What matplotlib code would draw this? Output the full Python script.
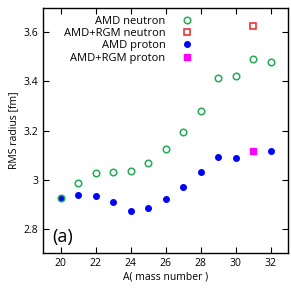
import matplotlib
matplotlib.use('Agg')
import matplotlib.pyplot as plt

plt.rcParams['font.family'] = ['Open Sans', 'DejaVu Sans']

# mass numbers and radii
A_amd = [20, 21, 22, 23, 24, 25, 26, 27, 28, 29, 30, 31, 32]
amd_neutron = [2.925, 2.985, 3.026, 3.029, 3.033, 3.068, 3.126, 3.194, 3.278, 3.415, 3.423, 3.49, 3.48]
A_proton = [20, 21, 22, 23, 24, 25, 26, 27, 28, 29, 30, 32]
amd_proton = [2.924, 2.936, 2.931, 2.909, 2.872, 2.886, 2.922, 2.971, 3.029, 3.091, 3.087, 3.115]
A_rgm = [31]
rgm_neutron = [3.627]
rgm_proton = [3.115]

fig = plt.figure(figsize=(2.91, 2.94), dpi=100)
ax = fig.add_axes([0.148, 0.139, 0.842, 0.834])

ax.plot(A_proton, amd_proton, 'o', color='#0000ff', markersize=4, linestyle='none', label='AMD proton')
ax.plot(A_amd, amd_neutron, 'o', mfc='none', mec='#22aa55', mew=1.1, markersize=4.7, linestyle='none', label='AMD neutron')
ax.plot(A_rgm, rgm_neutron, 's', mfc='none', mec='#ee2222', mew=1.1, markersize=4.7, linestyle='none', label='AMD+RGM neutron')
ax.plot(A_rgm, rgm_proton, 's', color='#ff00ff', markersize=4.5, linestyle='none', label='AMD+RGM proton')

ax.set_xlim(19, 33)
ax.set_ylim(2.7, 3.7)
ax.set_xticks([20, 22, 24, 26, 28, 30, 32])
ax.set_yticks([2.8, 3.0, 3.2, 3.4, 3.6])
ax.set_yticklabels(['2.8', '3', '3.2', '3.4', '3.6'])
ax.tick_params(direction='in', top=True, right=True, labelsize=7.5, length=4, width=0.8)
for s in ax.spines.values():
    s.set_linewidth(1.0)

ax.set_xlabel('A( mass number )', fontsize=7.5, labelpad=2)
ax.set_ylabel('RMS radius [fm]', fontsize=7.5, labelpad=3)

ax.text(19.55, 2.745, '(a)', fontsize=13)

h, l = ax.get_legend_handles_labels()
order = [1, 2, 0, 3]
ax.legend([h[i] for i in order], [l[i] for i in order], loc='upper right',
          bbox_to_anchor=(0.645, 1.0), frameon=False, markerfirst=False,
          fontsize=8, handlelength=1.2, handletextpad=1.3,
          labelspacing=0.12, borderaxespad=0.3)

fig.savefig('out.png', dpi=100)
